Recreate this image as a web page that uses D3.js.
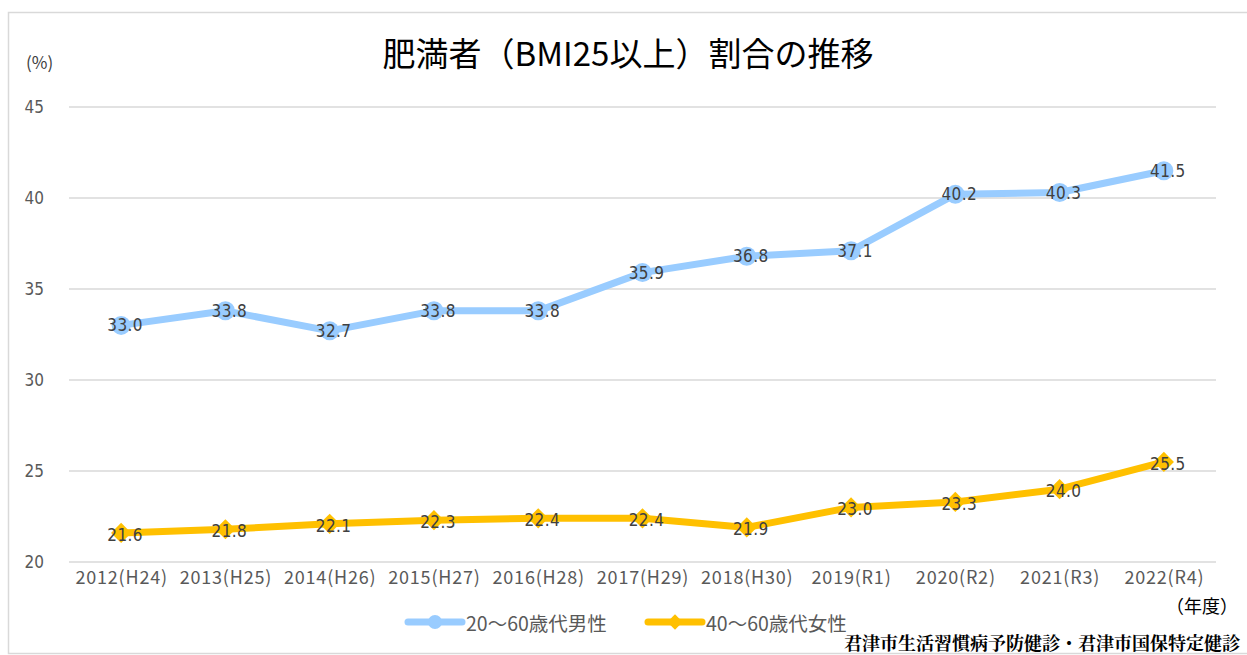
<!DOCTYPE html>
<html>
<head>
<meta charset="utf-8">
<script src="https://cdn.jsdelivr.net/npm/d3@7"></script>
<style>
  body { margin: 0; background: #fff; }
  svg { display: block; }
</style>
</head>
<body>
<svg id="chart"></svg>
<script>
const years = ['2012(H24)', '2013(H25)', '2014(H26)', '2015(H27)', '2016(H28)', '2017(H29)',
  '2018(H30)', '2019(R1)', '2020(R2)', '2021(R3)', '2022(R4)'];
const male = [33.0, 33.8, 32.7, 33.8, 33.8, 35.9, 36.8, 37.1, 40.2, 40.3, 41.5];
const female = [21.6, 21.8, 22.1, 22.3, 22.4, 22.4, 21.9, 23.0, 23.3, 24.0, 25.5];
const yTicks = [20, 25, 30, 35, 40, 45];
const seriesNames = ['20～60歳代男性', '40～60歳代女性'];

const width = 1247, height = 655;
const margin = { top: 107, right: 31, bottom: 93, left: 69 };
const innerW = width - margin.left - margin.right;
const innerH = height - margin.top - margin.bottom;

const svg = d3.select('#chart').attr('width', width).attr('height', height);

// outer frame
svg.append('rect')
  .attr('x', 8.5).attr('y', 12.5)
  .attr('width', 1250).attr('height', 641)
  .attr('fill', 'none').attr('stroke', '#d9d9d9').attr('stroke-width', 1.5);

const xScale = d3.scalePoint().domain(years).range([0, innerW]).padding(0.5);
const yScale = d3.scaleLinear().domain([20, 45]).range([innerH, 0]);

const g = svg.append('g').attr('transform', `translate(${margin.left}, ${margin.top})`);

// grid
g.selectAll('line.grid').data(yTicks).enter().append('line')
  .attr('class', 'grid')
  .attr('x1', 0).attr('x2', innerW)
  .attr('y1', d => yScale(d)).attr('y2', d => yScale(d))
  .attr('stroke', '#d9d9d9').attr('stroke-width', 1.5);

// y axis labels
const yAxis = g.append('g').call(d3.axisLeft(yScale).tickValues(yTicks).tickSize(0).tickPadding(25));
yAxis.select('.domain').remove();
yAxis.selectAll('text')
  .attr('fill', '#595959')
  .style('font-family', '"DejaVu Sans Condensed", "DejaVu Sans", sans-serif')
  .style('font-size', '17px');

// x axis labels
const xAxis = g.append('g').attr('transform', `translate(0, ${innerH})`)
  .call(d3.axisBottom(xScale).tickSize(0).tickPadding(9));
xAxis.select('.domain').remove();
xAxis.selectAll('text')
  .attr('fill', '#595959')
  .style('font-family', '"Noto Sans CJK JP", sans-serif')
  .style('font-size', '18px')
  .style('letter-spacing', '0.8px');

const line = d3.line()
  .x((d, i) => xScale(years[i]))
  .y(d => yScale(d));

const blue = '#99ccff', gold = '#ffc000';

// male series
g.append('path').datum(male)
  .attr('d', line).attr('fill', 'none')
  .attr('stroke', blue).attr('stroke-width', 7).attr('stroke-linejoin', 'round');
g.selectAll('circle.male').data(male).enter().append('circle')
  .attr('class', 'male')
  .attr('cx', (d, i) => xScale(years[i])).attr('cy', d => yScale(d))
  .attr('r', 9.5).attr('fill', blue);

// female series
g.append('path').datum(female)
  .attr('d', line).attr('fill', 'none')
  .attr('stroke', gold).attr('stroke-width', 7).attr('stroke-linejoin', 'round');
const diamond = d3.symbol().type(d3.symbolDiamond2).size(260);
g.selectAll('path.female').data(female).enter().append('path')
  .attr('class', 'female')
  .attr('d', diamond)
  .attr('transform', (d, i) => `translate(${xScale(years[i])}, ${yScale(d)})`)
  .attr('fill', gold);

// data labels
const labelStyle = sel => sel
  .attr('text-anchor', 'middle')
  .attr('dominant-baseline', 'central')
  .attr('fill', '#404040')
  .style('font-family', '"DejaVu Sans Condensed", "DejaVu Sans", sans-serif')
  .style('font-size', '17px')
  .style('letter-spacing', '0.4px');

g.selectAll('text.mlab').data(male).enter().append('text')
  .attr('class', 'mlab')
  .attr('x', (d, i) => xScale(years[i]) + 4).attr('y', d => yScale(d))
  .text(d => d.toFixed(1))
  .call(labelStyle);

g.selectAll('text.flab').data(female).enter().append('text')
  .attr('class', 'flab')
  .attr('x', (d, i) => xScale(years[i]) + 4).attr('y', d => yScale(d) + 2)
  .text(d => d.toFixed(1))
  .call(labelStyle);

// title
svg.append('text')
  .attr('x', 628).attr('y', 52)
  .attr('text-anchor', 'middle').attr('dominant-baseline', 'central')
  .attr('fill', '#000')
  .style('font-family', '"Noto Sans CJK JP", sans-serif')
  .style('font-size', '33px')
  .text('肥満者（BMI25以上）割合の推移');

// unit labels
svg.append('text')
  .attr('x', 26).attr('y', 61)
  .attr('dominant-baseline', 'central')
  .attr('fill', '#404040')
  .style('font-family', '"Noto Sans CJK JP", sans-serif')
  .style('font-size', '17px')
  .text('(%)');

svg.append('text')
  .attr('x', 1238).attr('y', 605)
  .attr('text-anchor', 'end').attr('dominant-baseline', 'central')
  .attr('fill', '#000')
  .style('font-family', '"Noto Sans CJK JP", sans-serif')
  .style('font-size', '18px')
  .text('（年度）');

// legend
const legend = svg.append('g').attr('transform', 'translate(0, 622)');
const legendItems = [
  { name: seriesNames[0], color: blue, x: 408, shape: 'circle' },
  { name: seriesNames[1], color: gold, x: 648, shape: 'diamond' }
];
legendItems.forEach(item => {
  legend.append('line')
    .attr('x1', item.x).attr('x2', item.x + 54)
    .attr('y1', 0).attr('y2', 0)
    .attr('stroke', item.color).attr('stroke-width', 7).attr('stroke-linecap', 'round');
  if(item.shape === 'circle') {
    legend.append('circle').attr('cx', item.x + 27).attr('cy', 0).attr('r', 7).attr('fill', item.color);
  } else {
    legend.append('path')
      .attr('d', d3.symbol().type(d3.symbolDiamond2).size(150))
      .attr('transform', `translate(${item.x + 27}, 0)`)
      .attr('fill', item.color);
  }
  legend.append('text')
    .attr('x', item.x + 58).attr('y', 0)
    .attr('dominant-baseline', 'central')
    .attr('fill', '#595959')
    .style('font-family', '"Noto Sans CJK JP", sans-serif')
    .style('font-size', '19.5px')
    .text(item.name);
});

// source note
svg.append('text')
  .attr('x', 1240).attr('y', 642)
  .attr('text-anchor', 'end').attr('dominant-baseline', 'central')
  .attr('fill', '#000')
  .style('font-family', '"Noto Serif CJK JP", "Noto Sans CJK JP", serif')
  .style('font-weight', 'bold')
  .style('font-size', '18px')
  .text('君津市生活習慣病予防健診・君津市国保特定健診');
</script>
</body>
</html>
